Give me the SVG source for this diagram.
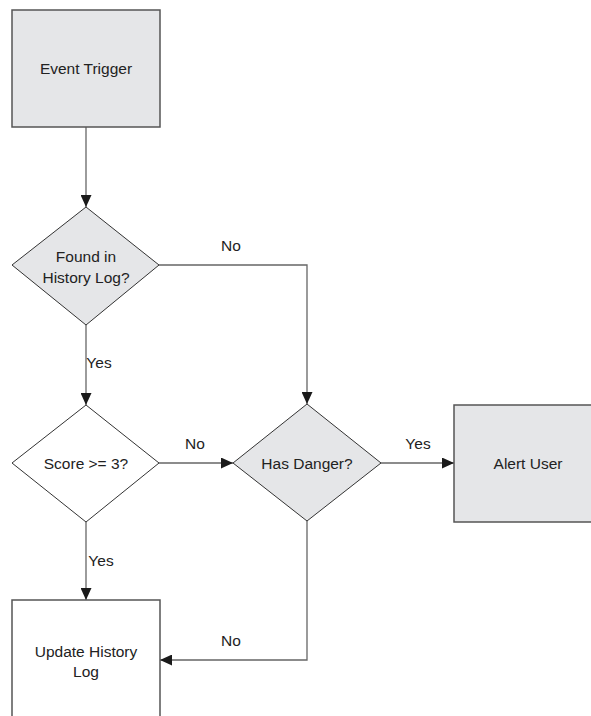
<svg xmlns="http://www.w3.org/2000/svg" width="591" height="716" viewBox="0 0 591 716">
<defs>
<marker id="ah" viewBox="0 0 12 11" refX="12" refY="5.5" markerWidth="12" markerHeight="11" markerUnits="userSpaceOnUse" orient="auto">
<path d="M0,0 L12,5.5 L0,11 z" fill="#1a1a1a"/>
</marker>
</defs>
<style>
.box{stroke:#555;stroke-width:1.5}
.dia{stroke:#333;stroke-width:1}
.gray{fill:#e5e6e8}
.white{fill:#fff}
.conn{fill:none;stroke:#666;stroke-width:1.3;marker-end:url(#ah)}
text{font-family:"Liberation Sans",Arial,sans-serif;font-size:15.5px;fill:#222;text-anchor:middle;dominant-baseline:central}
</style>
<rect width="591" height="716" fill="#fff"/>
<g id="connectors">
<path class="conn" d="M86,127 L86,207"/>
<path class="conn" d="M159,265 L307,265 L307,404"/>
<path class="conn" d="M86,325 L86,405"/>
<path class="conn" d="M159,463 L233,463"/>
<path class="conn" d="M381,463 L454,463"/>
<path class="conn" d="M86,522 L86,600"/>
<path class="conn" d="M307,521 L307,660 L160,660"/>
<text x="231" y="245">No</text>
<text x="99" y="362">Yes</text>
<text x="195" y="443">No</text>
<text x="418" y="443">Yes</text>
<text x="101" y="560">Yes</text>
<text x="231" y="640">No</text>
</g>
<g id="event-trigger">
<rect class="box gray" x="12" y="10" width="148" height="117"/>
<text x="86" y="68">Event Trigger</text>
</g>
<g id="found-in-history">
<polygon class="dia gray" points="86,207 159,265 86,325 12,265"/>
<text x="86" y="256">Found in</text>
<text x="86" y="277">History Log?</text>
</g>
<g id="score">
<polygon class="dia white" points="86,405 159,463 86,522 12,463"/>
<text x="86" y="463">Score &gt;= 3?</text>
</g>
<g id="has-danger">
<polygon class="dia gray" points="307,404 381,463 307,521 233,463"/>
<text x="307" y="463">Has Danger?</text>
</g>
<g id="alert-user">
<rect class="box gray" x="454" y="405" width="148" height="117"/>
<text x="528" y="463">Alert User</text>
</g>
<g id="update-history">
<rect class="box white" x="12" y="600" width="148" height="117"/>
<text x="86" y="651">Update History</text>
<text x="86" y="671">Log</text>
</g>
</svg>
